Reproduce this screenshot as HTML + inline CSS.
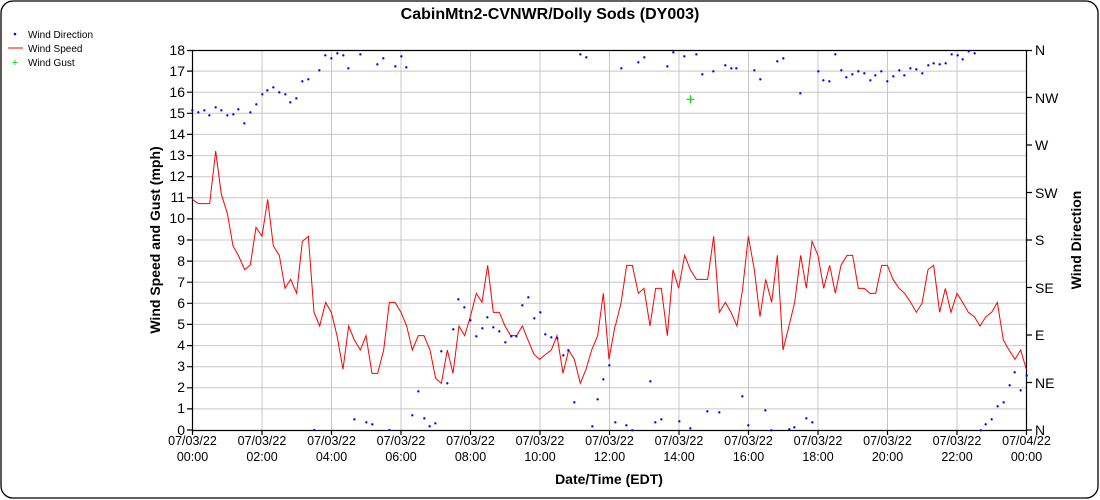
<!DOCTYPE html>
<html><head><meta charset="utf-8"><style>
html,body{margin:0;padding:0;background:#fff;}
svg{display:block;font-family:"Liberation Sans",Arial,sans-serif;}
</style></head><body>
<svg width="1100" height="500" viewBox="0 0 1100 500" xmlns="http://www.w3.org/2000/svg">
<rect x="1" y="1" width="1097" height="497" rx="12" ry="12" fill="#fff" stroke="#000" stroke-width="1.3"/>
<text x="550" y="19" text-anchor="middle" font-size="16" font-weight="bold">CabinMtn2-CVNWR/Dolly Sods (DY003)</text>
<!-- legend -->
<circle cx="15" cy="34" r="1.3" fill="#00f"/>
<text x="28" y="38" font-size="10">Wind Direction</text>
<line x1="8" y1="48" x2="23" y2="48" stroke="#f00" stroke-width="1"/>
<text x="28" y="52" font-size="10">Wind Speed</text>
<text x="15" y="66" font-size="11" fill="#0c0" text-anchor="middle">+</text>
<text x="28" y="66" font-size="10">Wind Gust</text>
<!-- grid -->
<g stroke="#c8c8c8" stroke-width="1">
<line x1="192" x2="1026" y1="71.1" y2="71.1"/><line x1="192" x2="1026" y1="92.2" y2="92.2"/><line x1="192" x2="1026" y1="113.3" y2="113.3"/><line x1="192" x2="1026" y1="134.4" y2="134.4"/><line x1="192" x2="1026" y1="155.6" y2="155.6"/><line x1="192" x2="1026" y1="176.7" y2="176.7"/><line x1="192" x2="1026" y1="197.8" y2="197.8"/><line x1="192" x2="1026" y1="218.9" y2="218.9"/><line x1="192" x2="1026" y1="240" y2="240"/><line x1="192" x2="1026" y1="261.1" y2="261.1"/><line x1="192" x2="1026" y1="282.2" y2="282.2"/><line x1="192" x2="1026" y1="303.3" y2="303.3"/><line x1="192" x2="1026" y1="324.4" y2="324.4"/><line x1="192" x2="1026" y1="345.6" y2="345.6"/><line x1="192" x2="1026" y1="366.7" y2="366.7"/><line x1="192" x2="1026" y1="387.8" y2="387.8"/><line x1="192" x2="1026" y1="408.9" y2="408.9"/>
<line y1="50" y2="430" x1="262" x2="262"/><line y1="50" y2="430" x1="331.5" x2="331.5"/><line y1="50" y2="430" x1="401" x2="401"/><line y1="50" y2="430" x1="470.5" x2="470.5"/><line y1="50" y2="430" x1="540" x2="540"/><line y1="50" y2="430" x1="609.5" x2="609.5"/><line y1="50" y2="430" x1="679" x2="679"/><line y1="50" y2="430" x1="748.5" x2="748.5"/><line y1="50" y2="430" x1="818" x2="818"/><line y1="50" y2="430" x1="887.5" x2="887.5"/><line y1="50" y2="430" x1="957" x2="957"/>
</g>
<!-- axes -->
<g stroke="#000" stroke-width="1.2" fill="none">
<line x1="192.5" y1="50" x2="192.5" y2="430"/><line x1="1026.5" y1="50" x2="1026.5" y2="430"/><line x1="192" y1="430.5" x2="1027" y2="430.5"/><line x1="192" y1="50.5" x2="1027" y2="50.5"/>
<path d="M187 50.5h5M187 71.1h5M187 92.2h5M187 113.3h5M187 134.4h5M187 155.6h5M187 176.7h5M187 197.8h5M187 218.9h5M187 240h5M187 261.1h5M187 282.2h5M187 303.3h5M187 324.4h5M187 345.6h5M187 366.7h5M187 387.8h5M187 408.9h5M187 430h5"/>
<path d="M1027 50.5h5M1027 97.5h5M1027 145h5M1027 192.5h5M1027 240h5M1027 287.5h5M1027 335h5M1027 382.5h5M1027 430h5"/>
<path d="M192.5 430v5M262 430v5M331.5 430v5M401 430v5M470.5 430v5M540 430v5M609.5 430v5M679 430v5M748.5 430v5M818 430v5M887.5 430v5M957 430v5M1026.5 430v5"/>
</g>
<g font-size="14" text-anchor="end">
<text x="185" y="55">18</text><text x="185" y="76">17</text><text x="185" y="97">16</text><text x="185" y="118">15</text><text x="185" y="139">14</text><text x="185" y="160">13</text><text x="185" y="181">12</text><text x="185" y="202">11</text><text x="185" y="223">10</text><text x="185" y="245">9</text><text x="185" y="266">8</text><text x="185" y="287">7</text><text x="185" y="308">6</text><text x="185" y="329">5</text><text x="185" y="350">4</text><text x="185" y="371">3</text><text x="185" y="392">2</text><text x="185" y="413">1</text><text x="185" y="435">0</text>
</g>
<g font-size="14">
<text x="1035" y="55">N</text><text x="1035" y="103">NW</text><text x="1035" y="150">W</text><text x="1035" y="198">SW</text><text x="1035" y="245">S</text><text x="1035" y="293">SE</text><text x="1035" y="340">E</text><text x="1035" y="388">NE</text><text x="1035" y="435">N</text>
</g>
<g font-size="12.5" text-anchor="middle">
<text x="192.5" y="445">07/03/22</text><text x="192.5" y="461">00:00</text>
<text x="262" y="445">07/03/22</text><text x="262" y="461">02:00</text>
<text x="331.5" y="445">07/03/22</text><text x="331.5" y="461">04:00</text>
<text x="401" y="445">07/03/22</text><text x="401" y="461">06:00</text>
<text x="470.5" y="445">07/03/22</text><text x="470.5" y="461">08:00</text>
<text x="540" y="445">07/03/22</text><text x="540" y="461">10:00</text>
<text x="609.5" y="445">07/03/22</text><text x="609.5" y="461">12:00</text>
<text x="679" y="445">07/03/22</text><text x="679" y="461">14:00</text>
<text x="748.5" y="445">07/03/22</text><text x="748.5" y="461">16:00</text>
<text x="818" y="445">07/03/22</text><text x="818" y="461">18:00</text>
<text x="887.5" y="445">07/03/22</text><text x="887.5" y="461">20:00</text>
<text x="957" y="445">07/03/22</text><text x="957" y="461">22:00</text>
<text x="1026.5" y="445">07/04/22</text><text x="1026.5" y="461">00:00</text>
</g>
<text x="609" y="484" text-anchor="middle" font-size="14" font-weight="bold">Date/Time (EDT)</text>
<text transform="translate(160,240) rotate(-90)" text-anchor="middle" font-size="14" font-weight="bold">Wind Speed and Gust (mph)</text>
<text transform="translate(1081,240) rotate(-90)" text-anchor="middle" font-size="14" font-weight="bold">Wind Direction</text>
<!-- series part 1 -->
<g transform="translate(185,40) scale(0.33333)">
<polyline fill="none" stroke="#f00" stroke-width="3" points="22,478 40,491 74,491 92,333 109,463 127,520 144,618 161,648 179,689 196,675 213,562 231,589 248,478 265,618 283,646 300,745 317,718 335,760 352,604 370,589 387,817 404,858 422,787 439,817 456,887 474,988 491,858 508,900 526,930 543,887 561,1000 578,1000 596,930 613,787 630,787 648,817 665,858 682,930 700,887 717,887 735,930 752,1015 769,1030 787,930 804,1000 822,858 839,887 856,830 874,760 891,787 908,676 925,817 943,817 960,858 977,887 995,887 1012,858 1029,900 1047,943 1064,958 1082,943 1099,930 1116,887 1134,1000 1151,930 1168,958 1186,1030 1203,988 1220,930 1238,887 1255,760 1272,958 1290,858"/>
<path fill="none" stroke="#00f" stroke-width="7" stroke-linecap="round" d="M22 211h0M40 217h0M58 211h0M73 226h0M92 202h0M109 211h0M127 226h0M145 223h0M160 208h0M178 250h0M196 217h0M214 193h0M232 163h0M247 151h0M265 142h0M283 157h0M301 163h0M316 187h0M334 175h0M352 124h0M370 118h0M403 91h0M421 46h0M439 55h0M457 40h0M475 46h0M490 85h0M526 43h0M577 73h0M595 55h0M631 79h0M649 49h0M664 82h0M388 1170h0M508 1138h0M544 1147h0M562 1153h0M613 1170h0M682 1126h0M700 1054h0M718 1135h0M734 1159h0M751 1150h0M769 934h0M787 1030h0M805 868h0M820 778h0M838 802h0M856 841h0M874 889h0M892 865h0M907 832h0M925 862h0M943 874h0M961 907h0M979 889h0M994 889h0M1012 796h0M1030 772h0M1048 835h0M1066 817h0M1081 883h0M1099 892h0M1117 895h0M1135 946h0M1150 931h0M1168 1087h0M1186 43h0M1204 52h0M1222 1159h0M1238 1078h0M1255 1018h0M1273 976h0"/>
</g>
<!-- series part 2 -->
<g transform="translate(600,40) scale(0.33333)">
<polyline fill="none" stroke="#f00" stroke-width="3" points="46,858 63,790 80,676 97,676 115,760 132,745 150,858 167,745 184,745 202,887 219,689 236,745 254,646 271,689 289,718 306,718 323,718 341,589 358,817 376,787 393,817 411,858 428,745 445,589 463,689 480,830 497,718 515,787 532,646 549,930 567,858 584,787 602,646 619,745 636,604 654,646 671,745 689,676 706,760 723,676 741,646 758,646 775,745 793,745 810,760 827,760 845,676 862,676 879,718 897,745 914,760 932,787 949,817 966,790 984,689 1001,676 1019,817 1036,745 1053,817 1071,760 1088,787 1105,817 1123,830 1140,858 1158,830 1175,817 1192,787 1210,900 1227,930 1245,958 1262,930 1279,988"/>
<path fill="none" stroke="#00f" stroke-width="7" stroke-linecap="round" d="M46 1147h0M64 85h0M79 1156h0M97 1171h0M115 67h0M133 52h0M151 1024h0M166 1147h0M184 1138h0M202 79h0M220 37h0M238 1144h0M253 49h0M271 1165h0M289 43h0M307 103h0M322 1114h0M340 94h0M358 1117h0M376 76h0M394 85h0M409 85h0M427 1069h0M445 1156h0M463 91h0M481 118h0M496 1111h0M514 1171h0M532 64h0M550 55h0M568 1168h0M583 1162h0M601 160h0M619 1135h0M637 1147h0M655 94h0M670 121h0M688 124h0M706 43h0M724 91h0M739 112h0M757 103h0M775 94h0M793 100h0M811 121h0M826 106h0M844 94h0M862 124h0M880 109h0M898 91h0M913 106h0M931 85h0M949 88h0M967 100h0M985 76h0M1001 70h0M1019 73h0M1037 70h0M1055 43h0M1073 46h0M1088 58h0M1106 34h0M1124 40h0M1142 1171h0M1157 1153h0M1175 1138h0M1193 1099h0M1211 1087h0M1229 1036h0M1244 997h0M1262 1051h0M1280 1006h0"/>
</g>
<path d="M686.5 99.3h8M690.5 95.3v8" stroke="#0d0" stroke-width="1.2"/>
</svg>
</body></html>
